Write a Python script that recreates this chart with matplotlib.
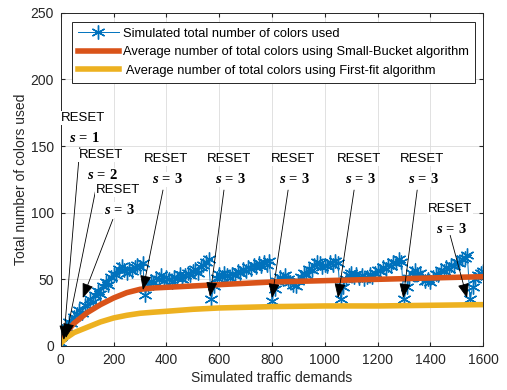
import numpy as np
import matplotlib.pyplot as plt

plt.rcParams['font.family'] = ['Liberation Sans', 'DejaVu Sans']
plt.rcParams['mathtext.fontset'] = 'custom'
plt.rcParams['mathtext.it'] = 'Liberation Serif:italic:bold'
plt.rcParams['mathtext.rm'] = 'Liberation Serif:bold'

# simulated demands (every 10th sample)
demand = np.arange(0, 1601, 10)
simulated = [
    2, 9, 14, 18, 17, 22, 24, 27, 25, 31,
    30, 35, 33, 38, 41, 39, 45, 48, 46, 52,
    54, 53, 58, 60, 57, 55, 58, 56, 59, 61,
    59, 62, 38, 46, 49, 47, 51, 50, 53, 49,
    52, 50, 48, 52, 51, 54, 50, 53, 55, 53,
    56, 58, 55, 59, 61, 63, 65, 35, 45, 51,
    54, 52, 55, 53, 51, 54, 53, 56, 55, 58,
    56, 59, 58, 61, 59, 62, 60, 63, 61, 64,
    34, 43, 49, 52, 50, 53, 50, 48, 46, 45,
    49, 52, 55, 53, 58, 57, 61, 63, 62, 59,
    61, 60, 63, 61, 64, 62, 35, 44, 50, 53,
    55, 52, 54, 51, 53, 50, 52, 54, 52, 55,
    57, 56, 59, 58, 61, 60, 63, 62, 65, 63,
    35, 44, 51, 55, 57, 54, 55, 51, 49, 50,
    48, 52, 54, 53, 57, 56, 59, 58, 61, 60,
    63, 62, 65, 66, 68, 35, 44, 50, 53, 55,
    56,
]

avg_x = [0, 20, 50, 100, 150, 200, 250, 300, 350, 400, 500, 600, 800, 1000, 1200, 1400, 1600]
small_bucket = [3, 10, 17, 25, 31, 36, 40, 42.5, 43.5, 44, 45, 46, 48, 49, 50, 51, 52]
first_fit = [2, 6, 10, 14, 18, 21, 23, 24.5, 25.3, 26, 27.5, 28.5, 29.5, 30, 30, 30.5, 31]

# annotations: s value, text pos, arrow tail, arrow head
notes = [
    ('1', (83, 164), (72, 149), (11, 4.5)),
    ('2', (152, 136), (136, 121), (19, 6)),
    ('3', (216, 110), (197, 95), (83, 36)),
    ('3', (398, 133), (387, 117), (311, 42)),
    ('3', (637, 133), (618, 117), (565, 37)),
    ('3', (880, 133), (861, 117), (800, 36)),
    ('3', (1130, 133), (1111, 117), (1050, 36)),
    ('3', (1369, 133), (1350, 117), (1297, 36)),
    ('3', (1475, 96), (1475, 83), (1539, 36)),
]

fig = plt.figure(figsize=(5.07, 3.9), dpi=100)
ax = fig.add_axes([0.120, 0.113, 0.833, 0.854])

ax.plot(demand, simulated, color='#0072BD', marker=(6, 2, 0), markersize=10,
        mew=1.0, lw=0.7, label='Simulated total number of colors used')
ax.plot(avg_x, small_bucket, color='#D95319', lw=4,
        label='Average number of total colors using Small-Bucket algorithm')
ax.plot(avg_x, first_fit, color='#EDB120', lw=4,
        label=' Average number of total colors using First-fit algorithm')

for s, txt, tail, head in notes:
    ax.text(txt[0], txt[1] + 7, 'RESET', ha='center', va='center', fontsize=9.5,
            bbox=dict(fc='white', ec='none', pad=0.5))
    ax.text(txt[0] + 6, txt[1] - 8, r'$s\,=\,' + s + '$', ha='center', va='center',
            fontsize=10.5, bbox=dict(fc='white', ec='none', pad=0.5))
    ax.annotate('', xy=head, xytext=tail,
                arrowprops=dict(arrowstyle='-|>,head_length=0.9,head_width=0.35',
                                color='k', lw=0.6, shrinkA=0, shrinkB=0))

ax.set_xlim(0, 1600)
ax.set_ylim(0, 250)
ax.set_xticks(range(0, 1601, 200))
ax.set_yticks(range(0, 251, 50))
ax.grid(True, color='#dcdcdc', lw=0.6)
ax.set_axisbelow(True)
ax.tick_params(direction='in', top=True, right=True, labelsize=10,
               colors='#262626', length=3, pad=5)
for sp in ax.spines.values():
    sp.set_color('#262626')
    sp.set_linewidth(0.7)
ax.set_xlabel('Simulated traffic demands', fontsize=10, color='#262626', labelpad=3)
ax.set_ylabel('Total number of colors used', fontsize=10, color='#262626', labelpad=2)

leg = ax.legend(loc='upper left', bbox_to_anchor=(0.026, 0.973), borderaxespad=0,
                fontsize=9.3, fancybox=False, edgecolor='#262626', framealpha=1,
                handlelength=3.2, borderpad=0.45, labelspacing=0.5, handletextpad=0.3)
leg.get_frame().set_linewidth(0.7)

fig.savefig('out.png', dpi=100)
